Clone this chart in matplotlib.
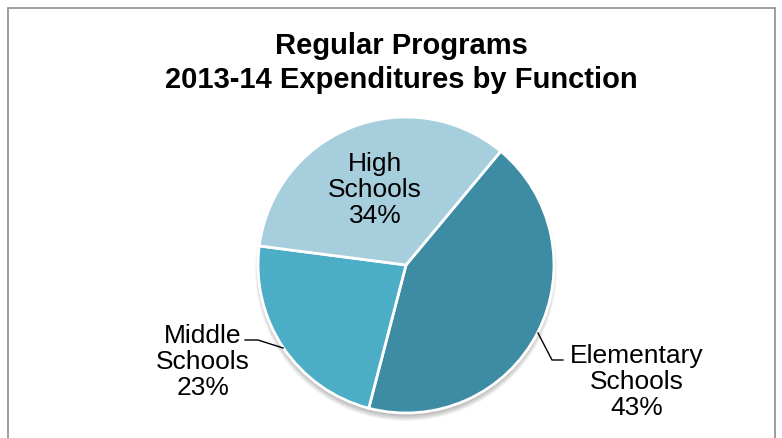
import matplotlib
matplotlib.use("Agg")
import matplotlib.pyplot as plt
from matplotlib.patches import Rectangle, Circle

plt.rcParams['font.family'] = ['Liberation Sans', 'DejaVu Sans']

title = "Regular Programs\n2013-14 Expenditures by Function"
categories = ["Elementary\nSchools", "Middle\nSchools", "High\nSchools"]
shares = [43, 23, 34]
colors = ["#3d8ca4", "#4badc6", "#a7cedc"]

W, H = 782, 438
fig = plt.figure(figsize=(W / 100, H / 100), dpi=100)
ax = fig.add_axes([0, 0, 1, 1])

# chart frame
fig.patches.append(Rectangle((8 / W, -0.1), (775 - 8) / W, (H - 8) / H + 0.1,
                             transform=fig.transFigure, fill=False,
                             edgecolor="#8c8c8c", linewidth=1.2))

cx, cy, r = 406, H - 265, 148

# soft drop shadow under the pie
for i in range(8):
    ax.add_patch(Circle((cx, cy - 5), r + 3 - i * 0.8, facecolor="black",
                        edgecolor="none", alpha=0.035, zorder=0))

wedges, _ = ax.pie(shares, colors=colors, startangle=50.2, counterclock=False,
                   center=(cx, cy), radius=r, frame=True,
                   wedgeprops=dict(edgecolor="white", linewidth=2))
ax.set_xlim(0, W)
ax.set_ylim(0, H)
ax.set_aspect('equal')
ax.axis('off')

fig.text(401 / W, 1 - 63 / H, title, ha='center', va='center', fontsize=21,
         fontweight='bold', linespacing=1.27)

labels = [f"{c}\n{s}%" for c, s in zip(categories, shares)]
fs = 19
ls = 1.1
# Elementary
ax.text(637, H - 382, labels[0], ha='center', va='center', fontsize=fs, linespacing=ls)
ax.plot([538, 552, 563], [H - 333, H - 360, H - 360], color='black', lw=1)
# Middle
ax.text(203, H - 362, labels[1], ha='center', va='center', fontsize=fs, linespacing=ls)
ax.plot([245, 258, 283], [H - 340, H - 340, H - 348], color='black', lw=1)
# High
ax.text(375, H - 190, labels[2], ha='center', va='center', fontsize=fs, linespacing=ls)

fig.savefig("out.png", dpi=100)
